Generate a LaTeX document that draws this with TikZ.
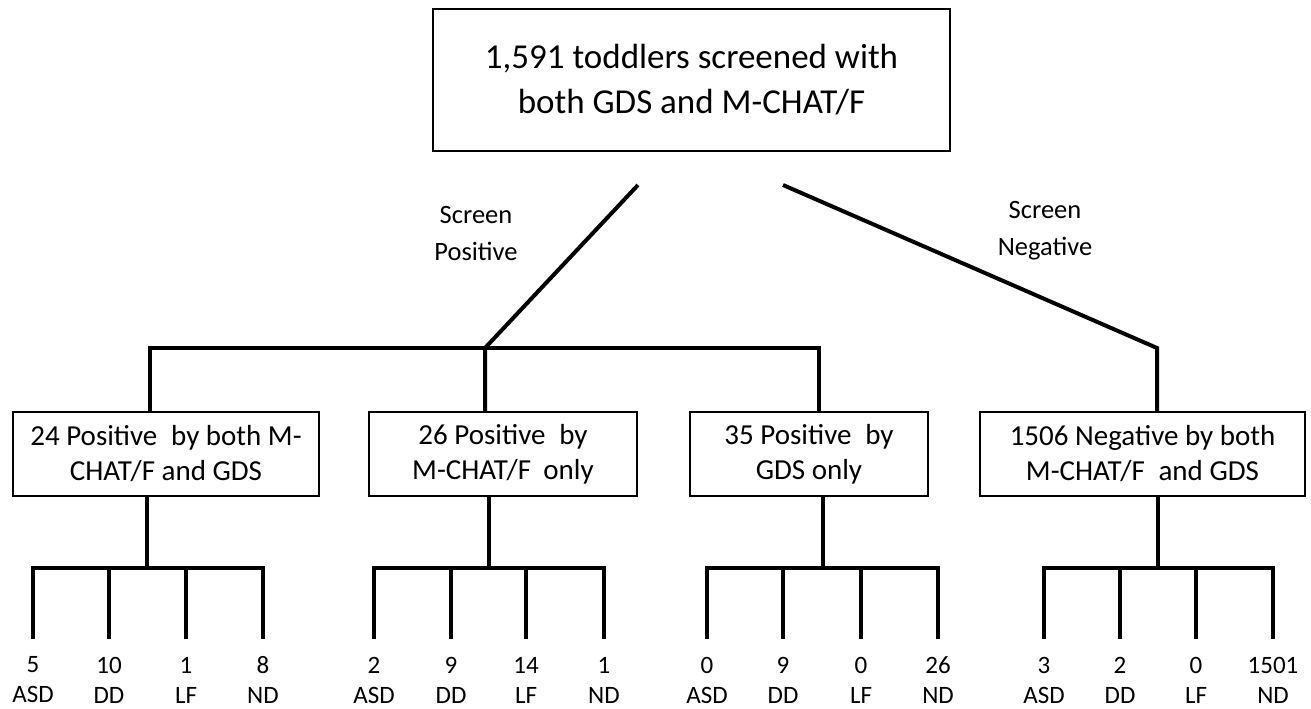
\documentclass[tikz,border=0pt]{standalone}
\usepackage{fontspec}
\setmainfont{Carlito}
\begin{document}
\begin{tikzpicture}[x=1pt,y=-1pt,
  conn/.style={line width=4pt, line join=miter},
  box/.style={draw, line width=1.5pt, align=center, inner sep=0pt, minimum height=84pt,
    font=\fontsize{29}{35}\selectfont},
  lbl/.style={align=center, inner sep=0pt, font=\fontsize{26.5}{37}\selectfont},
  leaf/.style={align=center, inner sep=0pt, font=\fontsize{25}{30}\selectfont}]
\useasboundingbox (0,0) rectangle (1311,709);
% top box
\node[box, minimum width=517pt, minimum height=142pt, font=\fontsize{35}{45}\selectfont]
  (top) at (691.5,80) {1,591 toddlers screened with\\both GDS and M-CHAT/F};
% second-level boxes
\node[box, minimum width=306pt] (b1) at (166,454) {24 Positive\hspace{0.25em} by both M-\\CHAT/F and GDS};
\node[box, minimum width=268pt] (b2) at (503,454) {26 Positive\hspace{0.25em} by\\M-CHAT/F\hspace{0.2em} only};
\node[box, minimum width=238pt] (b3) at (809,454) {35 Positive\hspace{0.25em} by\\GDS only};
\node[box, minimum width=325pt] (b4) at (1142.5,454) {1506 Negative by both\\M-CHAT/F\hspace{0.25em} and GDS};
% branch labels
\node[lbl] (sp) at (476,233) {Screen\\Positive};
\node[lbl] (sn) at (1045,231) {Screen\\Negative};
% upper connectors
\coordinate (ps) at (638,185);
\coordinate (pm) at (485,348);
\coordinate (pl) at (150,348);
\coordinate (pr) at (819,348);
\coordinate (ns) at (783,185);
\coordinate (nj) at (1157,348);
\draw[conn] (pl |- b1.north) -- (pl) -- (pr) -- (pr |- b3.north);
\draw[conn] (ps) -- (pm) -- (pm |- b2.north);
\draw[conn] (ns) -- (nj) -- (nj |- b4.north);
% lower trees
\foreach \g/\d/\xa/\xb/\xc/\xd/\na/\nb/\nc/\nd in {
  1/147/33/109/186/263/5/10/1/8,
  2/489/374/451/526/604/2/9/14/1,
  3/823/707/783/861/938/0/9/0/26,
  4/1158/1044/1120/1196/1273/3/2/0/1501}{
  \coordinate (d\g) at (\d,568);
  \draw[conn] (d\g |- b\g.south) -- (d\g);
  \coordinate (t\g-1) at (\xa,568);
  \coordinate (t\g-2) at (\xb,568);
  \coordinate (t\g-3) at (\xc,568);
  \coordinate (t\g-4) at (\xd,568);
  \coordinate (e\g-1) at (\xa,639);
  \coordinate (e\g-2) at (\xb,639);
  \coordinate (e\g-3) at (\xc,639);
  \coordinate (e\g-4) at (\xd,639);
  \draw[conn] (e\g-1) -- (t\g-1) -- (t\g-4) -- (e\g-4);
  \draw[conn] (t\g-2) -- (e\g-2);
  \draw[conn] (t\g-3) -- (e\g-3);
  \node[leaf] (v\g-1) at (\xa,680) {\na\\ASD};
  \node[leaf] (v\g-2) at (\xb,680) {\nb\\DD};
  \node[leaf] (v\g-3) at (\xc,680) {\nc\\LF};
  \node[leaf] (v\g-4) at (\xd,680) {\nd\\ND};
}
\end{tikzpicture}
\end{document}
